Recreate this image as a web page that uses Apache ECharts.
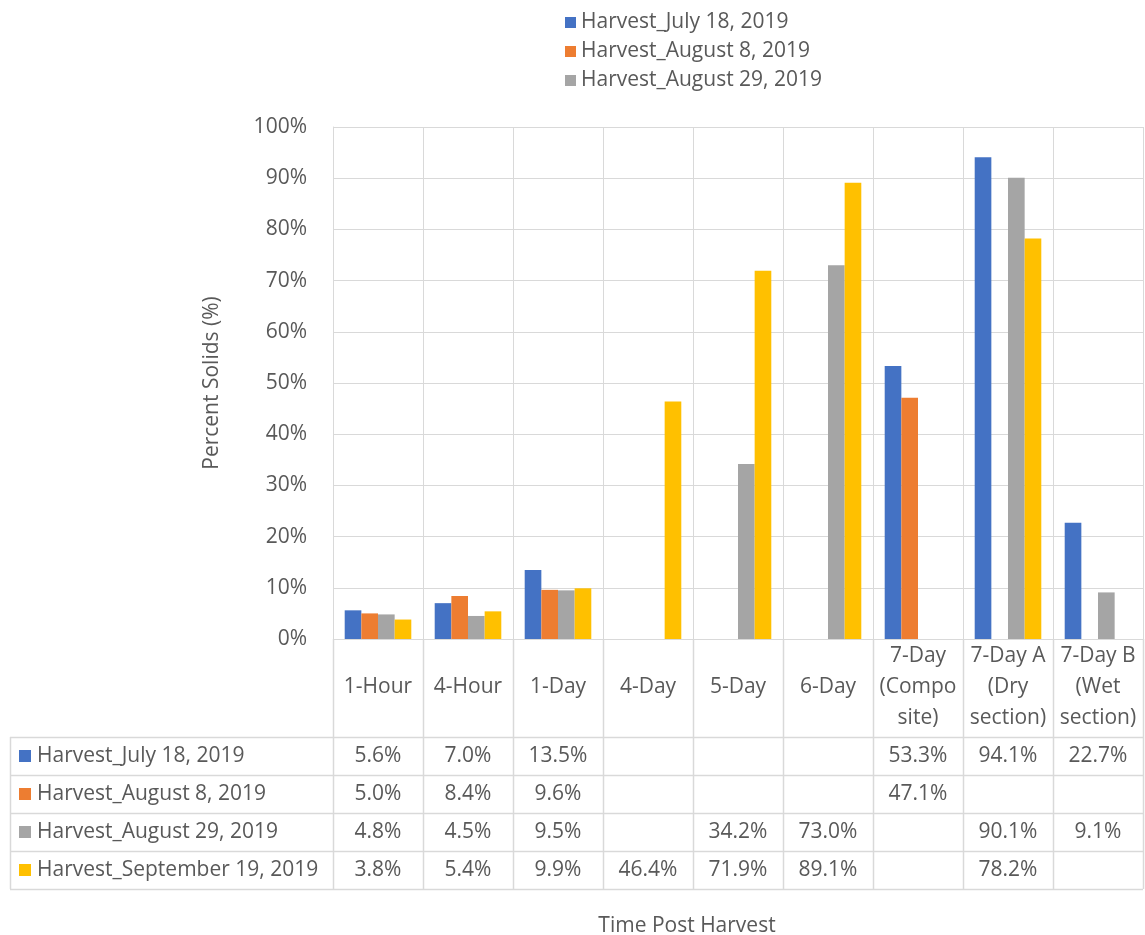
<!DOCTYPE html>
<html>
<head>
<meta charset="utf-8">
<script src="https://cdn.jsdelivr.net/npm/echarts@6/dist/echarts.min.js"></script>
<style>html,body{margin:0;padding:0;background:#fff;}#c{width:1145px;height:935px;}</style>
</head>
<body>
<div id="c"></div>
<script>
const categories = ['1-Hour','4-Hour','1-Day','4-Day','5-Day','6-Day','7-Day\n(Compo\nsite)','7-Day A\n(Dry\nsection)','7-Day B\n(Wet\nsection)'];
const seriesNames = ['Harvest_July 18, 2019','Harvest_August 8, 2019','Harvest_August 29, 2019','Harvest_September 19, 2019'];
const july18 = [5.6, 7.0, 13.5, null, null, null, 53.3, 94.1, 22.7];
const aug8   = [5.0, 8.4, 9.6, null, null, null, 47.1, null, null];
const aug29  = [4.8, 4.5, 9.5, null, 34.2, 73.0, null, 90.1, 9.1];
const sep19  = [3.8, 5.4, 9.9, 46.4, 71.9, 89.1, null, 78.2, null];
const seriesValues = [july18, aug8, aug29, sep19];
const colors = ['#4472C4','#ED7D31','#A5A5A5','#FFC000'];
const yMin = 0, yMax = 100, yStep = 10;

const FONT = 'Open Sans';
const FS = 21;
const TXT = '#595959';
const LINE = '#d9d9d9';

const chart = echarts.init(document.getElementById('c'), null, {renderer:'canvas'});
const option = {
  animation: false,
  textStyle: {fontFamily: FONT, color: TXT},
  color: colors,
  legend: {
    data: seriesNames.slice(0,3),
    orient: 'vertical', left: 560, top: 3,
    itemWidth: 11, itemHeight: 11, itemGap: 0,
    icon: 'rect',
    textStyle: {fontFamily: FONT, fontSize: FS, color: TXT, lineHeight: 29}
  },
  grid: {left: 333, right: 2, top: 127, bottom: 296, containLabel: false},
  xAxis: {
    type: 'category', data: categories,
    axisLine: {show: false}, axisTick: {show: false},
    splitLine: {show: true, lineStyle: {color: LINE, width: 1}},
    axisLabel: {fontFamily: FONT, fontSize: FS, color: TXT, verticalAlign: 'middle', lineHeight: 31, margin: 48, interval: 0}
  },
  yAxis: {
    type: 'value', min: yMin, max: yMax, interval: yStep,
    name: 'Percent Solids (%)', nameLocation: 'middle', nameRotate: 90, nameGap: 110,
    nameTextStyle: {fontFamily: FONT, fontSize: FS, color: TXT},
    axisLine: {show: true, lineStyle: {color: LINE}}, axisTick: {show: false},
    splitLine: {lineStyle: {color: LINE, width: 1}},
    axisLabel: {formatter: '{value}%', fontFamily: FONT, fontSize: FS, color: TXT, margin: 26}
  },
  series: seriesNames.map((n, i) => ({
    name: n, type: 'bar', data: seriesValues[i],
    barGap: '0%', barCategoryGap: '26%',
    itemStyle: {color: colors[i]}
  }))
};
chart.setOption(option);

// Data table built from library scales
const centers = categories.map((c, i) => chart.convertToPixel({xAxisIndex: 0}, i));
const band = centers[1] - centers[0];
const xLeft = centers[0] - band / 2;
const xRight = centers[centers.length - 1] + band / 2;
const y0 = chart.convertToPixel({yAxisIndex: 0}, 0);
const tableTop = y0 + 98;
const rowH = 38;
const tableLeft = 10;
const nRows = seriesNames.length;
const tableBottom = tableTop + rowH * nRows;
const font = FS + 'px "' + FONT + '"';
const g = [];
const ls = {stroke: LINE, lineWidth: 1.5};
for (let r = 0; r <= nRows; r++) {
  const y = Math.round(tableTop + r * rowH) + 0.5;
  g.push({type: 'line', shape: {x1: tableLeft, y1: y, x2: xRight, y2: y}, style: ls, silent: true});
}
g.push({type: 'line', shape: {x1: tableLeft + 0.5, y1: tableTop, x2: tableLeft + 0.5, y2: tableBottom}, style: ls});
for (let i = 0; i <= categories.length; i++) {
  const x = Math.round(xLeft + i * band) + 0.5;
  g.push({type: 'line', shape: {x1: x, y1: y0, x2: x, y2: tableBottom}, style: ls});
}
for (let r = 0; r < nRows; r++) {
  const yc = tableTop + r * rowH + rowH / 2;
  g.push({type: 'rect', shape: {x: tableLeft + 9, y: yc - 6, width: 12, height: 12}, style: {fill: colors[r]}});
  g.push({type: 'text', x: tableLeft + 27, y: yc, style: {text: seriesNames[r], fill: TXT, font: font, verticalAlign: 'middle', textVerticalAlign: 'middle'}});
  seriesValues[r].forEach((v, i) => {
    if (v == null) return;
    g.push({type: 'text', x: centers[i], y: yc, style: {text: v.toFixed(1) + '%', fill: TXT, font: font, align: 'center', textAlign: 'center', verticalAlign: 'middle', textVerticalAlign: 'middle'}});
  });
}
g.push({type: 'text', x: (xLeft + xRight) / 2 - 51, y: tableBottom + 37, style: {text: 'Time Post Harvest', fill: TXT, font: font, align: 'center', textAlign: 'center', verticalAlign: 'middle', textVerticalAlign: 'middle'}});
chart.setOption({graphic: g});
</script>
</body>
</html>
